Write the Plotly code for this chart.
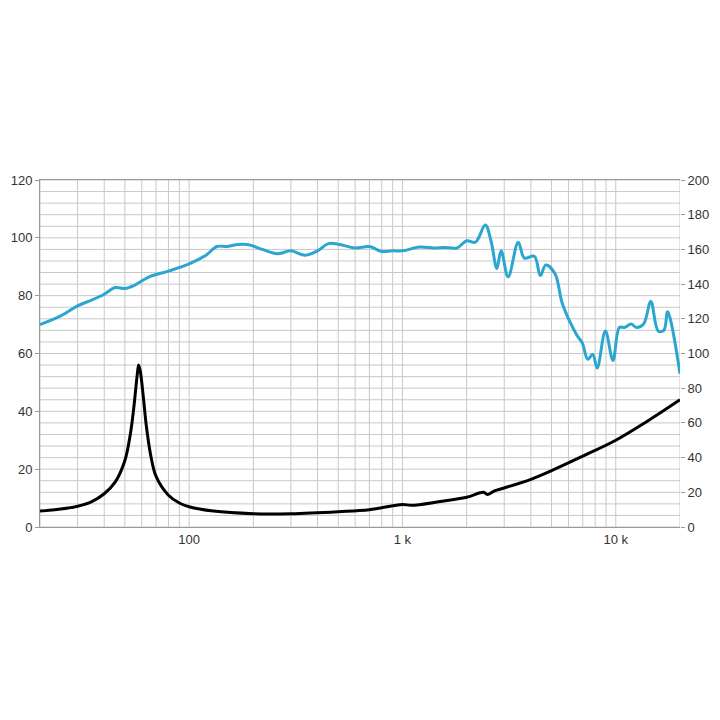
import numpy as np
import plotly.graph_objects as go

# frequency response (left axis, dB)
spl_freq = [20, 25, 30, 35, 40, 45, 50, 55, 65, 80, 100, 120, 135, 150, 170, 190, 220, 260, 300, 350,
            400, 450, 500, 600, 700, 800, 900, 1000, 1200, 1400, 1574, 1800, 2000, 2200, 2445, 2600,
            2770, 2900, 3130, 3490, 3730, 4150, 4430, 4700, 5190, 5630, 6540, 6970, 7390, 7800, 8180,
            8940, 9700, 10400, 11000, 11800, 12500, 13500, 14600, 15800, 16800, 17500, 20000]
spl_db = [70, 73, 76.5, 78.5, 80.5, 82.8, 82.5, 83.5, 86.5, 88.5, 91, 94, 97, 97, 97.7, 97.6, 96, 94.5, 95.5, 94,
          95.5, 98, 97.8, 96.5, 97, 95.3, 95.5, 95.5, 96.8, 96.5, 96.7, 96.5, 99, 98.5, 104.4, 99,
          89.4, 95.5, 86.5, 98.5, 93, 93.6, 87, 90.6, 87.6, 77, 66.6, 63.6, 58, 59.7, 55,
          67.8, 57.6, 69, 69, 70.2, 69, 70.2, 78, 67.8, 68, 74.4, 53]

# impedance curve (drawn against left scale)
imp_freq = [20, 25, 30, 35, 40, 45, 50, 53, 55, 57, 58, 59, 61, 63, 66, 70, 80, 90, 100, 130, 200, 300,
            500, 700, 1000, 1100, 1500, 2000, 2400, 2500, 2700, 3000, 4000, 5000, 7000, 10000, 14000, 20000]
imp_val = [5.5, 6.2, 7.2, 8.8, 11.5, 15.5, 23, 32, 41, 52, 56, 54, 45, 35, 25, 17.5, 11, 8.3, 7, 5.5, 4.6, 4.6,
           5.3, 6, 7.8, 7.5, 8.8, 10.3, 12, 11.2, 12.5, 13.5, 16.5, 19.5, 24.5, 30, 36.5, 44]

fig = go.Figure()

fig.add_trace(go.Scatter(x=spl_freq, y=spl_db, mode="lines", line=dict(color="#2ba6cf", width=3, shape="spline"),
                         showlegend=False))
fig.add_trace(go.Scatter(x=imp_freq, y=imp_val, mode="lines", line=dict(color="black", width=3, shape="spline"),
                         showlegend=False))
# dummy trace to show right axis
fig.add_trace(go.Scatter(x=[20], y=[0], yaxis="y2", mode="markers", marker=dict(opacity=0), showlegend=False,
                         hoverinfo="skip"))

grid_x = [m * 10 ** e for e in range(1, 5) for m in range(1, 10) if 20 <= m * 10 ** e <= 20000]

fig.update_layout(
    width=712, height=712,
    margin=dict(l=32, r=40, t=172, b=193),
    paper_bgcolor="white", plot_bgcolor="white",
    font=dict(family="Liberation Sans, Arial", size=13, color="#333"),
    xaxis=dict(type="log", range=[np.log10(20), np.log10(20000)], tickvals=[100, 1000, 10000],
               ticktext=["100", "1 k", "10 k"], showgrid=False, zeroline=False, automargin=False,
               showline=True, linecolor="#999", mirror=True, ticks=""),
    yaxis=dict(range=[0, 120], tickvals=list(range(0, 121, 20)), showgrid=False, zeroline=False,
               automargin=False,
               showline=True, linecolor="#999", ticks="outside", ticklen=4, tickcolor="#999"),
    yaxis2=dict(range=[0, 200], tickvals=list(range(0, 201, 20)), overlaying="y", side="right",
                automargin=False,
                showgrid=False, zeroline=False, ticks="outside", ticklen=4, tickcolor="#999"),
)

# grid lines
for gx in grid_x:
    fig.add_shape(type="line", xref="x", yref="paper", x0=gx, x1=gx, y0=0, y1=1,
                  line=dict(color="#c8c8c8", width=1), layer="below")
for gy in range(0, 121, 4):
    fig.add_shape(type="line", xref="paper", yref="y", x0=0, x1=1, y0=gy, y1=gy,
                  line=dict(color="#c8c8c8", width=1), layer="below")

fig.write_html("out.html")
